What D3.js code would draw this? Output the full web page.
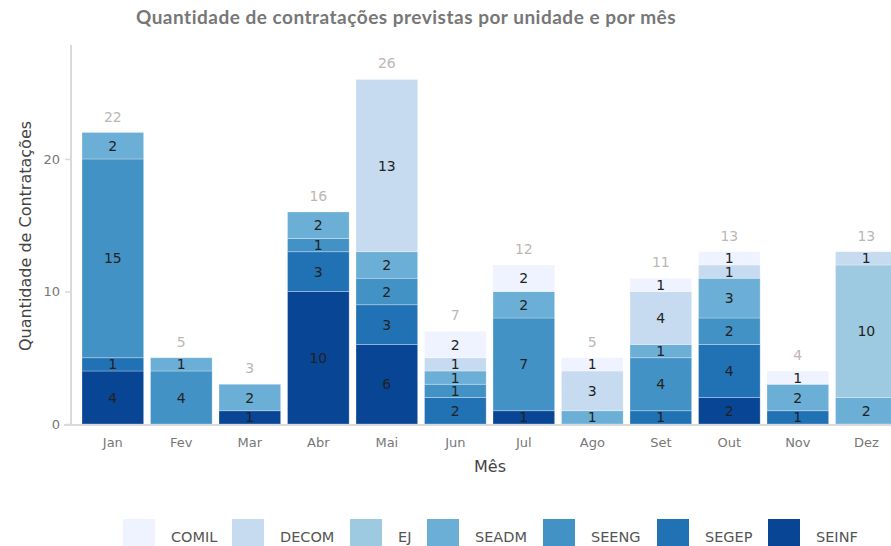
<!DOCTYPE html>
<html>
<head>
<meta charset="utf-8">
<script src="https://cdn.jsdelivr.net/npm/d3@7"></script>
<style>
html,body{margin:0;padding:0;background:#fff;overflow:hidden;}
svg{display:block;}
</style>
</head>
<body>
<svg id="chart" width="891" height="546"></svg>
<script>
const months = ["Jan","Fev","Mar","Abr","Mai","Jun","Jul","Ago","Set","Out","Nov","Dez"];
const units = ["SEINF","SEGEP","SEENG","SEADM","EJ","DECOM","COMIL"];
const legendOrder = ["COMIL","DECOM","EJ","SEADM","SEENG","SEGEP","SEINF"];
const SEINF = [4,0,1,10,6,0,1,0,0,2,0,0];
const SEGEP = [1,0,0,3,3,2,0,0,1,4,1,0];
const SEENG = [15,4,0,1,2,1,7,0,4,2,0,0];
const SEADM = [2,1,2,2,2,1,2,1,1,3,2,2];
const EJ    = [0,0,0,0,0,0,0,0,0,0,0,10];
const DECOM = [0,0,0,0,13,1,0,3,4,1,0,1];
const COMIL = [0,0,0,0,0,2,2,1,1,1,1,0];
const yTicks = [0,10,20];
const colors = {COMIL:"#eff3ff",DECOM:"#c6dbef",EJ:"#9ecae1",SEADM:"#6baed6",SEENG:"#4292c6",SEGEP:"#2171b5",SEINF:"#084594"};

const seriesVals = {SEINF,SEGEP,SEENG,SEADM,EJ,DECOM,COMIL};
const table = months.map((m,i)=>{const o={month:m}; units.forEach(u=>o[u]=seriesVals[u][i]); return o;});
const stacked = d3.stack().keys(units)(table);

const svg = d3.select("#chart");
const font = "'DejaVu Sans', sans-serif";

const x = d3.scaleBand().domain(months).range([75.15, 904]).paddingInner(0.1).paddingOuter(0.1);
const y = d3.scaleLinear().domain([0, 28.6]).range([424, 45]);

// title
svg.append("text").attr("x",406).attr("y",24).attr("text-anchor","middle")
  .attr("font-family","Lato, sans-serif").attr("font-weight","bold").attr("font-size",19)
  .attr("letter-spacing","0.5px")
  .attr("fill","#777").text("Quantidade de contratações previstas por unidade e por mês");

// bars
const g = svg.append("g");
stacked.forEach(s=>{
  g.append("g").selectAll("rect").data(s.filter(d=>d[1]-d[0]>0)).join("rect")
    .attr("x",d=>x(d.data.month)).attr("width",x.bandwidth())
    .attr("y",d=>y(d[1])).attr("height",d=>y(d[0])-y(d[1]))
    .attr("fill",colors[s.key]).attr("stroke","rgba(255,255,255,0.35)").attr("stroke-width",0.8);
  g.append("g").selectAll("text").data(s.filter(d=>d[1]-d[0]>0)).join("text")
    .attr("x",d=>x(d.data.month)+x.bandwidth()/2)
    .attr("y",d=>(y(d[0])+y(d[1]))/2).attr("dy","0.36em")
    .attr("text-anchor","middle").attr("font-family",font).attr("font-size",14)
    .attr("fill","#222").text(d=>d[1]-d[0]);
});

// totals
const totals = months.map((m,i)=>units.reduce((a,u)=>a+seriesVals[u][i],0));
g.append("g").selectAll("text").data(months).join("text")
  .attr("x",m=>x(m)+x.bandwidth()/2).attr("y",(m,i)=>y(totals[i])-16).attr("dy","0.36em")
  .attr("text-anchor","middle").attr("font-family",font).attr("font-size",14)
  .attr("fill","#bdb6b6").text((m,i)=>totals[i]);

// axes lines
svg.append("line").attr("x1",71).attr("x2",71).attr("y1",45).attr("y2",425).attr("stroke","#d9d9d9").attr("stroke-width",2);
svg.append("line").attr("x1",64).attr("x2",891).attr("y1",425).attr("y2",425).attr("stroke","#d9d9d9").attr("stroke-width",2);

// y axis
const yAxis = svg.append("g").attr("transform","translate(71,0)")
  .call(d3.axisLeft(y).tickValues(yTicks).tickSize(6).tickPadding(5));
yAxis.select(".domain").remove();
yAxis.selectAll("line").attr("stroke","#d9d9d9").attr("stroke-width",1.5);
yAxis.selectAll("text").attr("font-family",font).attr("font-size",13).attr("fill","#777");

// x axis
const xAxis = svg.append("g").attr("transform","translate(0,425)")
  .call(d3.axisBottom(x).tickSize(0).tickPadding(13));
xAxis.select(".domain").remove();
xAxis.selectAll("text").attr("font-family",font).attr("font-size",13).attr("fill","#777");

// axis titles
svg.append("text").attr("x",490).attr("y",472).attr("text-anchor","middle")
  .attr("font-family",font).attr("font-size",16).attr("fill","#444").text("Mês");
svg.append("text").attr("transform","translate(31,236) rotate(-90)").attr("text-anchor","middle")
  .attr("font-family",font).attr("font-size",16).attr("fill","#444").text("Quantidade de Contratações");

// legend
const legX = [123,232,350,427,543,657,768];
const leg = svg.append("g");
legendOrder.forEach((k,i)=>{
  leg.append("rect").attr("x",legX[i]).attr("y",519).attr("width",32).attr("height",30).attr("fill",colors[k]);
  leg.append("text").attr("x",legX[i]+48).attr("y",542).attr("font-family",font).attr("font-size",14.5)
    .attr("fill","#555").text(k);
});
</script>
</body>
</html>
